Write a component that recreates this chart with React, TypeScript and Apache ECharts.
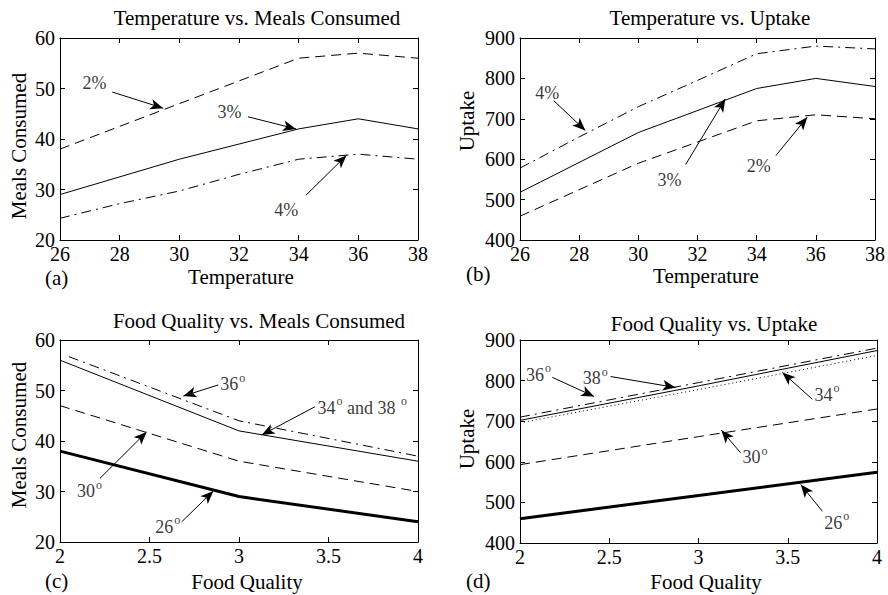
import React, { useEffect, useRef } from "react";
import * as echarts from "echarts";

const FONT = "Liberation Serif";

// Panel (a): Temperature vs. Meals Consumed
const tempX = [26, 30, 34, 36, 38];
const mealsTemp2 = [38, 47, 56, 57, 56];
const mealsTemp3 = [29, 36, 42, 44, 42];
const mealsTemp4X = [26, 28, 30, 32, 34, 36, 38];
const mealsTemp4 = [24.3, 27.2, 29.7, 33, 36, 37, 36];

// Panel (b): Temperature vs. Uptake
const uptakeTemp4X = [26, 28, 30, 32, 34, 36, 38];
const uptakeTemp4 = [578, 655, 730, 795, 861, 880, 873];
const uptakeTemp3 = [518, 666, 775, 800, 780];
const uptakeTemp2 = [459, 590, 695, 710, 700];

// Panel (c): Food Quality vs. Meals Consumed
const qualityX = [2, 3, 4];
const mealsQ36X = [2.05, 3, 4];
const mealsQ36 = [56.7, 44, 37];
const mealsQ34 = [56, 42, 36];
const mealsQ30 = [47, 36, 30];
const mealsQ26 = [38, 29, 24];

// Panel (d): Food Quality vs. Uptake
const uptakeQ36 = [710, 795, 880];
const uptakeQ34 = [702, 787, 874];
const uptakeQ38 = [696, 778, 862];
const uptakeQ30 = [593, 662, 730];
const uptakeQ26 = [460, 517, 574];

// Tick settings
const tempTicks = { min: 26, max: 38, interval: 2 };
const mealsTicks = { min: 20, max: 60, interval: 10 };
const uptakeTicks = { min: 400, max: 900, interval: 100 };
const qualityTicks = { min: 2, max: 4, interval: 0.5 };

// Annotation texts: [x, y, text]
const notesA: [number, number, string][] = [
  [27.17, 50.9, "2%"],
  [31.7, 45.3, "3%"],
  [33.6, 25.9, "4%"],
];
const arrowsA: [number, number, number, number][] = [
  [27.75, 49.3, 29.46, 46.1],
  [32.3, 44.4, 33.91, 42.0],
  [34.25, 28.9, 35.6, 36.75],
];
const notesB: [number, number, string][] = [
  [26.94, 763, "4%"],
  [31.07, 548, "3%"],
  [34.09, 581, "2%"],
];
const arrowsB: [number, number, number, number][] = [
  [27.14, 745, 28.21, 671],
  [31.6, 587, 32.94, 749],
  [34.65, 609, 35.71, 704],
];
const notesC: [number, number, string][] = [
  [2.968, 51.1, "36{s|o}"],
  [3.691, 46.5, "34{s|o} and 38 {s|o}"],
  [2.168, 30.0, "30{s|o}"],
  [2.605, 22.9, "26{s|o}"],
];
const arrowsC: [number, number, number, number][] = [
  [2.884, 51.1, 2.689, 48.9],
  [3.425, 46.8, 3.127, 41.2],
  [2.223, 32.6, 2.484, 41.8],
  [2.68, 24.0, 2.857, 30.1],
];
const notesD: [number, number, string][] = [
  [2.106, 813, "36{s|o}"],
  [2.424, 805, "38{s|o}"],
  [3.722, 764, "34{s|o}"],
  [3.32, 610, "30{s|o}"],
  [3.778, 449, "26{s|o}"],
];
const arrowsD: [number, number, number, number][] = [
  [2.181, 808, 2.415, 761],
  [2.508, 810, 2.872, 783],
  [3.638, 754, 3.47, 820],
  [3.236, 622, 3.128, 678],
  [3.694, 478, 3.573, 544],
];

const zip = (xs: number[], ys: number[]) => xs.map((x, i) => [x, ys[i]]);

const DASH = [10, 6];
const DASHDOT = [10, 5, 2, 5];
const DOT = [1, 3];

export default function App() {
  const ref = useRef<HTMLDivElement>(null);
  useEffect(() => {
    if (!ref.current) return;
    const chart = echarts.init(ref.current, undefined, { renderer: "svg" });

    const grids = [
      { left: 60, top: 38, width: 358, height: 202 },
      { left: 520, top: 38, width: 357, height: 202 },
      { left: 60, top: 340, width: 358, height: 202 },
      { left: 520, top: 340, width: 357, height: 203 },
    ];
    const xT = [tempTicks, tempTicks, qualityTicks, qualityTicks];
    const yT = [mealsTicks, uptakeTicks, mealsTicks, uptakeTicks];

    const xAxes: any[] = [];
    const yAxes: any[] = [];
    grids.forEach((_, g) => {
      const base = {
        type: "value",
        gridIndex: g,
        axisLine: { show: true, onZero: false, lineStyle: { color: "#000", width: 1 } },
        axisTick: { show: true, inside: true, length: 5, lineStyle: { color: "#000" } },
        splitLine: { show: false },
      };
      xAxes.push({
        ...base,
        ...xT[g],
        position: "bottom",
        axisLabel: { show: true, margin: 4, color: "#000", fontFamily: FONT, fontSize: 20 },
      });
      xAxes.push({ ...base, ...xT[g], position: "top", axisLabel: { show: false } });
      yAxes.push({
        ...base,
        ...yT[g],
        position: "left",
        axisLabel: { show: true, margin: 5, color: "#000", fontFamily: FONT, fontSize: 20 },
      });
      yAxes.push({ ...base, ...yT[g], position: "right", axisLabel: { show: false } });
    });

    const line = (g: number, data: number[][], type: any, width = 1) => ({
      type: "line",
      xAxisIndex: g * 2,
      yAxisIndex: g * 2,
      data,
      symbol: "none",
      silent: true,
      lineStyle: { color: "#000", width, type },
    });

    const notes = (g: number, items: [number, number, string][], arrows: [number, number, number, number][]) => ({
      type: "scatter",
      xAxisIndex: g * 2,
      yAxisIndex: g * 2,
      silent: true,
      symbolSize: 1,
      color: "#000",
      itemStyle: { color: "rgba(0,0,0,0)" },
      data: items.map((n) => ({ value: [n[0], n[1]], name: n[2] })),
      label: {
        show: true,
        position: [0, 0],
        align: "center",
        verticalAlign: "middle",
        formatter: (p: any) => p.name,
        color: "#000",
        fontFamily: FONT,
        fontSize: 18,
        textBorderWidth: 0,
        textBorderColor: "transparent",
        textShadowBlur: 0,
        rich: {
          s: {
            fontFamily: FONT,
            fontSize: 12,
            color: "#000",
            textBorderWidth: 0,
            textBorderColor: "transparent",
            padding: [0, 0, 13, 1],
          },
        },
      },
      markLine: {
        silent: true,
        animation: false,
        symbol: ["none", "arrow"],
        label: { show: false },
        lineStyle: { color: "#000", width: 1, type: "solid" },
        itemStyle: { color: "#000" },
        emphasis: { disabled: true },
        data: arrows.map((a) => [
          { coord: [a[0], a[1]], symbol: "none" },
          { coord: [a[2], a[3]], symbol: "arrow", symbolSize: [8, 13] },
        ]),
      },
    });

    const series: any[] = [
      line(0, zip(tempX, mealsTemp2), DASH),
      line(0, zip(tempX, mealsTemp3), "solid"),
      line(0, zip(mealsTemp4X, mealsTemp4), DASHDOT),
      notes(0, notesA, arrowsA),
      line(1, zip(uptakeTemp4X, uptakeTemp4), DASHDOT),
      line(1, zip(tempX, uptakeTemp3), "solid"),
      line(1, zip(tempX, uptakeTemp2), DASH),
      notes(1, notesB, arrowsB),
      line(2, zip(mealsQ36X, mealsQ36), DASHDOT),
      line(2, zip(qualityX, mealsQ34), "solid"),
      line(2, zip(qualityX, mealsQ30), DASH),
      line(2, zip(qualityX, mealsQ26), "solid", 3),
      notes(2, notesC, arrowsC),
      line(3, zip(qualityX, uptakeQ36), DASHDOT),
      line(3, zip(qualityX, uptakeQ34), "solid"),
      line(3, zip(qualityX, uptakeQ38), DOT),
      line(3, zip(qualityX, uptakeQ30), DASH),
      line(3, zip(qualityX, uptakeQ26), "solid", 3),
      notes(3, notesD, arrowsD),
    ];

    const txt = (text: string, x: number, y: number, align = "center", rot = 0) => ({
      type: "text",
      x,
      y,
      rotation: rot,
      silent: true,
      style: {
        text,
        fill: "#000",
        fontFamily: FONT,
        fontSize: 21,
        textAlign: align,
        textVerticalAlign: "middle",
      },
    });

    const graphics = [
      txt("Temperature vs. Meals Consumed", 257, 18),
      txt("Temperature vs. Uptake", 710, 18),
      txt("Food Quality vs. Meals Consumed", 259, 321),
      txt("Food Quality vs. Uptake", 714, 324),
      txt("Temperature", 241, 277),
      txt("Temperature", 706, 276),
      txt("Food Quality", 247, 582),
      txt("Food Quality", 706, 582),
      txt("(a)", 45, 278, "left"),
      txt("(b)", 466, 274, "left"),
      txt("(c)", 45, 581, "left"),
      txt("(d)", 466, 581, "left"),
      txt("Meals Consumed", 19, 146, "center", Math.PI / 2),
      txt("Uptake", 467, 121, "center", Math.PI / 2),
      txt("Meals Consumed", 19, 435, "center", Math.PI / 2),
      txt("Uptake", 467, 439, "center", Math.PI / 2),
    ];

    chart.setOption({
      animation: false,
      backgroundColor: "#fff",
      grid: grids,
      xAxis: xAxes,
      yAxis: yAxes,
      series,
      graphic: graphics,
    });
    return () => chart.dispose();
  }, []);
  return (
    <div
      ref={ref}
      style={{ position: "fixed", left: 0, top: 0, width: 888, height: 595, background: "#fff" }}
    />
  );
}
